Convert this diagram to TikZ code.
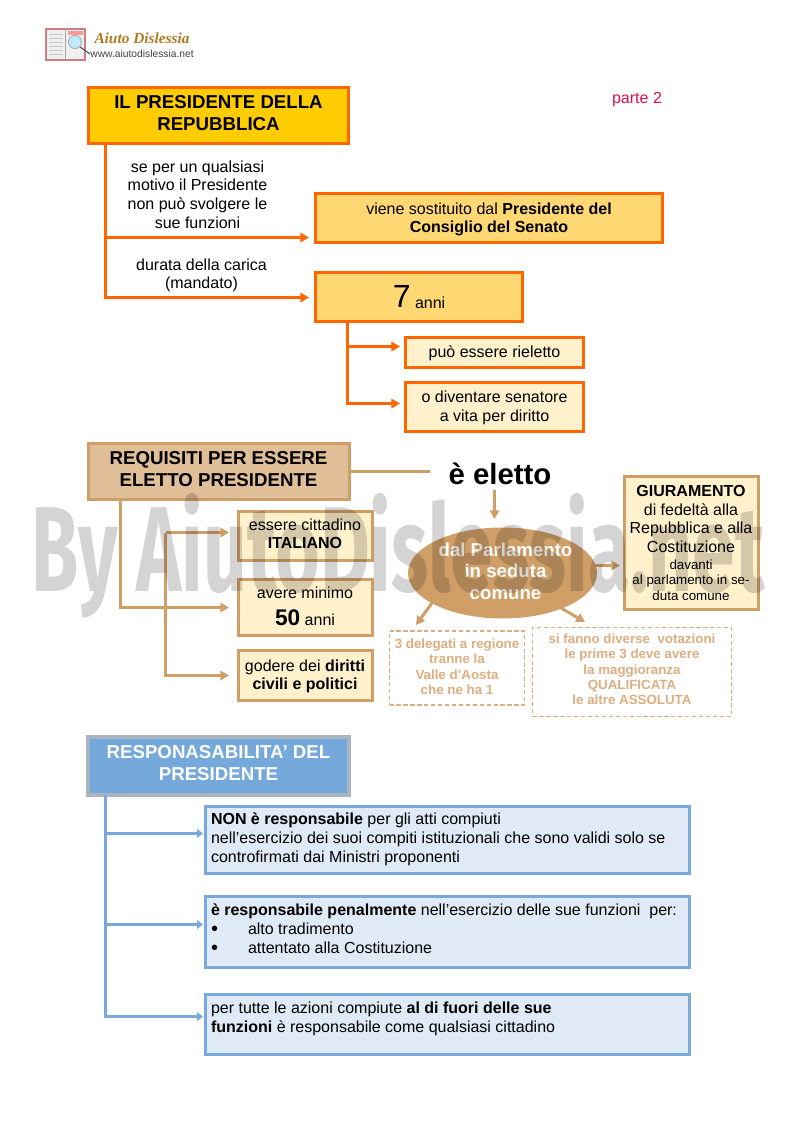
\documentclass[tikz,border=0pt]{standalone}
\usepackage{fontspec}
\setmainfont{Liberation Sans}
\newfontfamily\wmfont{Fira Sans}
\newfontfamily\logofont{Liberation Serif}
\usetikzlibrary{arrows.meta,shapes.geometric,calc}
\definecolor{org}{HTML}{FF6600}
\definecolor{gold}{HTML}{FFCC00}
\definecolor{lgold}{HTML}{FFD773}
\definecolor{tan}{HTML}{CF9F67}
\definecolor{ltan}{HTML}{E0BE98}
\definecolor{cream}{HTML}{FFF1CC}
\definecolor{blu}{HTML}{77A9DC}
\definecolor{lblu}{HTML}{DFEAF6}
\definecolor{hblu}{HTML}{75A8DB}
\definecolor{gbord}{HTML}{A8B5C0}
\definecolor{red1}{HTML}{E0104A}
\definecolor{dashc}{HTML}{DDAE80}
\definecolor{logob}{HTML}{B07A20}
\newcommand{\fA}{\fontsize{12}{13.9}\selectfont}
\newcommand{\fB}{\fontsize{10}{11.6}\selectfont}
\newcommand{\fT}{\fontsize{14}{16.5}\selectfont\bfseries}
\newcommand{\toptext}[3]{\parbox[c][#1][t]{358.9pt}{\vspace*{#2}\fontsize{12}{14.2}\selectfont #3}}
\newcommand{\upr}[1]{\rule[-#1]{0pt}{#1}}
\newcommand{\dnr}{\rule{0pt}{10.5pt}}
\newcommand{\bul}{\raisebox{-0.5pt}{\fontsize{15}{14}\selectfont\textbullet}\hspace{22.5pt}}
\tikzset{
 x=0.75pt,y=-0.75pt,
 orgbox/.style={draw=org,line width=2.25pt,fill=lgold,inner sep=0pt,outer sep=0pt,align=center,font=\fA},
 tanbox/.style={draw=tan,line width=2.25pt,fill=cream,inner sep=0pt,outer sep=0pt,align=center,font=\fA},
 blubox/.style={draw=blu,line width=2.25pt,fill=lblu,inner sep=0pt,outer sep=0pt,align=left,anchor=north west,minimum width=484*0.75pt},
 dbox/.style={draw=dashc,line width=1.2pt,dash pattern=on 3.2pt off 2pt,inner sep=0pt,outer sep=0pt,align=center,text=dashc,font=\fontsize{10}{11.5}\selectfont\bfseries},
 lab/.style={inner sep=0pt,align=center,font=\fA},
 orgarr/.style={draw=org,line width=2.25pt,-{Triangle[length=6.5pt,width=7pt]}},
 tanarr/.style={draw=tan,line width=2.25pt,-{Triangle[length=6.5pt,width=7pt]}},
 bluarr/.style={draw=blu,line width=2.25pt,-{Triangle[length=4.5pt,width=6.5pt]}},
}
\begin{document}
\begin{tikzpicture}
\useasboundingbox (0,0) rectangle (793,1123);
\fill[white] (0,0) rectangle (793,1123);
% logo
\node[inner sep=0pt,font=\fontsize{7.7}{8}\selectfont,text=black!75] (url) at (142,54) {www.aiutodislessia.net};
\node[inner sep=0pt,font=\fontsize{11.5}{11}\selectfont\logofont\bfseries\itshape,text=logob] (lname) at (142,38) {Aiuto Dislessia};
\fill[gray!12,draw=gray!55!red!70,line width=.8pt] (46,29) rectangle (85,60);
\draw[gray!70,line width=.5pt] (65.5,29) -- (65.5,60);
\foreach \yy in {34,38,42,46,50,54}{\draw[gray!45,line width=.6pt] (49,\yy) -- (63,\yy);}
\fill[red!40] (68,31) rectangle (83,35);
\fill[cyan!25,draw=gray!70,line width=.6pt] (75,42) circle (6.5);
\draw[gray!60!black,line width=.8pt] (80,47) -- (90,54);
% section 1
\node[orgbox,fill=gold,line width=2.6pt,minimum width=260.5*0.75pt,minimum height=56.5*0.75pt,font=\fT] (p1) at (218.5,115.5) {IL PRESIDENTE DELLA\\REPUBBLICA\upr{3.8pt}};
\node[orgbox,minimum width=347*0.75pt,minimum height=49*0.75pt] (p2) at (489,218) {\dnr viene sostituito dal \textbf{Presidente del}\\\textbf{Consiglio del Senato}};
\node[orgbox,minimum width=207*0.75pt,minimum height=49*0.75pt] (p3) at (419,297) {\raisebox{1pt}{\fontsize{24}{28}\selectfont 7}\ \fA anni};
\node[orgbox,fill=cream,minimum width=178*0.75pt,minimum height=30*0.75pt] (p4) at (494.5,352) {\dnr può essere rieletto};
\node[orgbox,fill=cream,minimum width=178*0.75pt,minimum height=49*0.75pt] (p5) at (494.5,406.5) {\dnr o diventare senatore\\a vita per diritto};
\node[lab] (l1) at (197.5,194.5) {se per un qualsiasi\\motivo il Presidente\\non può svolgere le\\sue funzioni};
\node[lab] (l2) at (201.5,275.5) {durata della carica\\(mandato)};
\node[lab,text=red1] (parte) at (637,100) {parte 2};
\coordinate (p1a) at (105.5,144);
\draw[orgarr] (p1a) -- (105.5,237.5) -- (309,237.5);
\draw[orgarr] (p1a) -- (105.5,297.5) -- (309,297.5);
\coordinate (p3a) at (347.5,322);
\draw[orgarr] (p3a) -- (347.5,346.5) -- (400,346.5);
\draw[orgarr] (p3a) -- (347.5,403.5) -- (400,403.5);
% section 2
\node[tanbox,fill=ltan,minimum width=261*0.75pt,minimum height=56*0.75pt,font=\fT] (r1) at (218.5,471) {REQUISITI PER ESSERE\\ELETTO PRESIDENTE\upr{3pt}};
\node[tanbox,minimum width=134*0.75pt,minimum height=49*0.75pt] (r2) at (305,535.5) {essere cittadino\\[-0.5pt]\textbf{ITALIANO}\upr{2.2pt}};
\node[tanbox,minimum width=134*0.75pt,minimum height=56*0.75pt] (r3) at (305,607) {avere minimo\\[6pt]{\fontsize{17}{17}\selectfont\textbf{50}}\ \fA anni\upr{1.5pt}};
\node[tanbox,minimum width=134*0.75pt,minimum height=50*0.75pt] (r4) at (305,675) {\dnr godere dei \textbf{diritti}\\\textbf{civili e politici}};
\node[inner sep=0pt,font=\fontsize{22}{24}\selectfont\bfseries] (el) at (500,474) {è eletto};
\node[ellipse,fill=tan,minimum width=189*0.75pt,minimum height=91*0.75pt,inner sep=0pt,outer sep=0pt] (ell) at (502.5,573) {};
\node[inner sep=0pt,align=center,text=white,font=\fontsize{14}{16.2}\selectfont\bfseries] (ellt) at (505.5,571) {dal Parlamento\\in seduta\\comune};
\node[tanbox,minimum width=134*0.75pt,minimum height=133*0.75pt] (g) at (691,543) {\textbf{GIURAMENTO}\\di fedeltà alla\\Repubblica e alla\\Costituzione\\[-1.1pt]\fB davanti\\[-2.3pt]\fB al parlamento in se-\\[-2.3pt]\fB duta comune};
\node[dbox,minimum width=135*0.75pt,minimum height=74*0.75pt] (d1) at (457,668) {3 delegati a regione\\tranne la\\Valle d’Aosta\\che ne ha 1\upr{2.2pt}};
\node[dbox,minimum width=199*0.75pt,minimum height=89*0.75pt] (d2) at (632,672) {si fanno diverse\ \ votazioni\\le prime 3 deve avere\\la maggioranza\\QUALIFICATA\\le altre ASSOLUTA\upr{3.8pt}};
\coordinate (r1a) at (120.5,501);
\draw[tanarr] (r1a) -- (120.5,607.5) -- (229,607.5);
\coordinate (rb) at (165.5,532.5);
\coordinate (rc) at (165.5,675.5);
\draw[tanarr] (rb) -- (229,532.5);
\draw[tanarr] (rb) -- (rc) -- (229,675.5);
\coordinate (r1b) at (430,471);
\draw[draw=tan,line width=2.25pt] (r1.east) -- (r1b);
\coordinate (ea) at (494.5,490);
\draw[tanarr] (ea) -- (494.5,519);
\coordinate (eb) at (595,565.5);
\coordinate (ec) at (620,565.5);
\draw[tanarr] (eb) -- (ec);
\coordinate (ed) at (432,603);
\coordinate (ee) at (416,625);
\draw[tanarr] (ed) -- (ee);
\coordinate (ef) at (561,608);
\coordinate (eg) at (585,622);
\draw[tanarr] (ef) -- (eg);
% section 3
\node[fill=hblu,draw=gbord,line width=2.4pt,inner sep=0pt,outer sep=0pt,minimum width=261*0.75pt,minimum height=58*0.75pt,align=center,text=white,font=\fT] (b1) at (218.5,766) {RESPONASABILITA’ DEL\\PRESIDENTE\upr{3.8pt}};
\node[blubox] (b2) at (205,806) {\hspace*{4.5pt}\toptext{50.5pt}{5.25pt}{\textbf{NON è responsabile} per gli atti compiuti\\nell’esercizio dei suoi compiti istituzionali che sono validi solo se\\controfirmati dai Ministri proponenti}};
\node[blubox] (b3) at (205,896) {\hspace*{4.5pt}\toptext{53.5pt}{6pt}{\textbf{è responsabile penalmente} nell’esercizio delle sue funzioni\ \ per:\\\bul alto tradimento\\\bul attentato alla Costituzione}};
\node[blubox] (b4) at (205,994) {\hspace*{4.5pt}\toptext{45.25pt}{6pt}{per tutte le azioni compiute \textbf{al di fuori delle sue}\\\textbf{funzioni} è responsabile come qualsiasi cittadino}};
\coordinate (b1a) at (105.5,795);
\draw[bluarr] (b1a) -- (105.5,833.5) -- (203,833.5);
\draw[bluarr] (b1a) -- (105.5,924.5) -- (203,924.5);
\draw[bluarr] (b1a) -- (105.5,1016.5) -- (203,1016.5);
% watermark
\node[inner sep=0pt,text=black,opacity=0.17,font=\fontsize{108}{108}\selectfont\wmfont\bfseries,xscale=0.532,yscale=0.84] (wm) at (398,556) {By AiutoDislessia.net};
\end{tikzpicture}
\end{document}
